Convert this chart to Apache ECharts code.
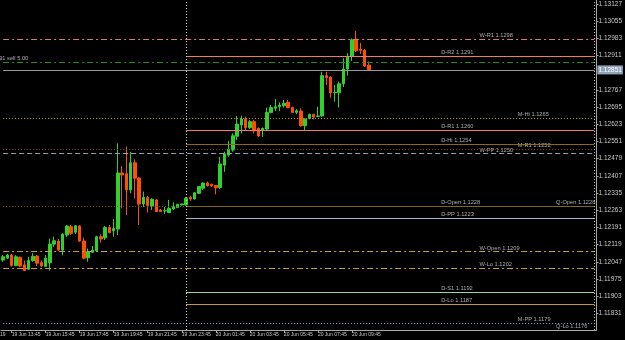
<!DOCTYPE html>
<html><head><meta charset="utf-8">
<script src="https://cdn.jsdelivr.net/npm/echarts@6/dist/echarts.min.js"></script>
<style>html,body{margin:0;padding:0;background:#000}#c{width:625px;height:340px}</style>
</head><body><div id="c"></div>
<script>
// ---- time categories (M15 bars, incl. empty future slots) ----
const categories = [];
for (let i = 0; i < 140; i++) {
  const m = 13 * 60 + 15 + 15 * i;
  const day = 19 + Math.floor(m / 1440);
  const mm = m % 1440;
  categories.push(day + ' Jun ' + String(Math.floor(mm / 60)).padStart(2, '0') + ':' + String(mm % 60).padStart(2, '0'));
}
// ---- candles ----
const opens  = [1.12054,1.12062,1.12075,1.12031,1.12066,1.12034,1.12016,1.12052,1.12071,1.12043,1.12027,1.12043,1.12121,1.12134,1.12096,1.12159,1.12194,1.12171,1.12197,1.12134,1.12064,1.12087,1.12093,1.12152,1.12147,1.12191,1.12177,1.12184,1.12419,1.12416,1.12348,1.12462,1.12398,1.12289,1.12317,1.12281,1.12306,1.12264,1.12260,1.12253,1.12268,1.12274,1.12285,1.12285,1.12317,1.12310,1.12334,1.12355,1.12377,1.12372,1.12367,1.12358,1.12452,1.12494,1.12515,1.12573,1.12620,1.12645,1.12609,1.12634,1.12606,1.12599,1.12603,1.12673,1.12690,1.12697,1.12701,1.12715,1.12694,1.12673,1.12679,1.12617,1.12648,1.12665,1.12656,1.12658,1.12827,1.12821,1.12755,1.12755,1.12793,1.12855,1.12908,1.12980,1.12938,1.12934,1.12871];
const closes = [1.12068,1.12075,1.12031,1.12068,1.12029,1.12010,1.12052,1.12070,1.12041,1.12029,1.12062,1.12121,1.12135,1.12096,1.12163,1.12197,1.12166,1.12198,1.12134,1.12062,1.12089,1.12096,1.12152,1.12142,1.12191,1.12169,1.12186,1.12419,1.12411,1.12348,1.12462,1.12397,1.12289,1.12317,1.12282,1.12309,1.12257,1.12257,1.12261,1.12271,1.12278,1.12288,1.12289,1.12313,1.12310,1.12336,1.12362,1.12377,1.12366,1.12365,1.12357,1.12457,1.12499,1.12519,1.12575,1.12624,1.12645,1.12609,1.12634,1.12596,1.12574,1.12606,1.12673,1.12693,1.12697,1.12704,1.12711,1.12693,1.12673,1.12680,1.12617,1.12645,1.12665,1.12654,1.12658,1.12827,1.12818,1.12755,1.12757,1.12793,1.12855,1.12908,1.12977,1.12931,1.12933,1.12867,1.12851];
const lows   = [1.12047,1.12059,1.12027,1.12029,1.12025,1.12008,1.12013,1.12047,1.12029,1.12025,1.12025,1.12010,1.12110,1.12092,1.12074,1.12150,1.12159,1.12163,1.12130,1.12057,1.12047,1.12083,1.12092,1.12127,1.12138,1.12166,1.12152,1.12159,1.12271,1.12243,1.12334,1.12313,1.12201,1.12276,1.12253,1.12264,1.12256,1.12256,1.12247,1.12251,1.12264,1.12272,1.12283,1.12283,1.12302,1.12308,1.12331,1.12348,1.12362,1.12360,1.12329,1.12352,1.12424,1.12487,1.12508,1.12557,1.12585,1.12599,1.12603,1.12585,1.12570,1.12570,1.12599,1.12670,1.12679,1.12679,1.12693,1.12690,1.12670,1.12665,1.12613,1.12599,1.12644,1.12644,1.12655,1.12655,1.12788,1.12734,1.12718,1.12693,1.12779,1.12827,1.12888,1.12926,1.12918,1.12863,1.12850];
const highs  = [1.12075,1.12080,1.12080,1.12075,1.12068,1.12052,1.12068,1.12083,1.12075,1.12052,1.12075,1.12144,1.12152,1.12142,1.12166,1.12201,1.12201,1.12201,1.12201,1.12148,1.12103,1.12113,1.12156,1.12162,1.12197,1.12201,1.12226,1.12543,1.12448,1.12530,1.12507,1.12476,1.12402,1.12341,1.12323,1.12313,1.12310,1.12268,1.12276,1.12306,1.12296,1.12289,1.12291,1.12318,1.12324,1.12339,1.12365,1.12380,1.12383,1.12374,1.12369,1.12487,1.12508,1.12553,1.12585,1.12658,1.12659,1.12655,1.12641,1.12641,1.12610,1.12609,1.12693,1.12704,1.12729,1.12715,1.12725,1.12725,1.12696,1.12687,1.12690,1.12648,1.12667,1.12667,1.12697,1.12843,1.12843,1.12825,1.12788,1.12802,1.12900,1.12921,1.12983,1.13015,1.12964,1.12938,1.12886];
// ---- levels ----
const levelNames  = ['W-R1','D-R2','M-Hi','D-R1','D-Hi','M-R1','W-PP','D-Open','Q-Open','D-PP','W-Open','W-Lo','D-S1','D-Lo','M-PP','Q-Lo'];
const levelValues = [1.1298,1.1291,1.1265,1.1260,1.1254,1.1252,1.1250,1.1228,1.1228,1.1223,1.1209,1.1202,1.1192,1.1187,1.1179,1.1176];
const orderLabel = '91 sell 5.00';
const orderPrice = 1.12884;
const bidPrice = 1.12851;
const separatorTime = '20 Jun 00:00';
const yTickValues = [1.13127,1.13055,1.12983,1.12911,1.12767,1.12695,1.12623,1.12551,1.12479,1.12407,1.12335,1.12263,1.12191,1.12119,1.12047,1.11975,1.11903,1.11831];

// ---- styles ----
const DD = [6,3,2,3], DOT = [1,2], DASH = [5,3];
const levelStyle = {
  'W-R1':  {c:'#d87a78', t:DD},
  'D-R2':  {c:'#f07a6a', t:'solid', day:true},
  'M-Hi':  {c:'#d0a020', t:DOT},
  'D-R1':  {c:'#f07a6a', t:'solid', day:true},
  'D-Hi':  {c:'#8a6a14', t:'solid', day:true},
  'M-R1':  {c:'#8c3c3c', t:DOT},
  'W-PP':  {c:'#8ea6b4', t:DASH},
  'D-Open':{c:'#8a6a14', t:'solid', day:true},
  'Q-Open':{c:'#7a5a14', t:DOT},
  'D-PP':  {c:'#a8bccb', t:'solid', day:true},
  'W-Open':{c:'#c8a040', t:DD},
  'W-Lo':  {c:'#c8a040', t:DD},
  'D-S1':  {c:'#98d898', t:'solid', day:true},
  'D-Lo':  {c:'#c89a30', t:'solid', day:true},
  'M-PP':  {c:'#80b0c8', t:DOT},
  'Q-Lo':  {c:'#80b0c8', t:DOT}
};
const labelCol = {D:103, W:112, M:121, Q:130};
const firstCat = categories[0];
const lastCat = categories[categories.length - 1];

function hLine(v, from, ls) {
  return [{coord:[from, v], lineStyle: ls}, {coord:[lastCat, v], lineStyle: ls}];
}
const markData = [];
levelNames.forEach((n, i) => {
  const s = levelStyle[n];
  markData.push(hLine(levelValues[i], s.day ? separatorTime : firstCat, {color: s.c, type: s.t, width: 1}));
});
markData.push(hLine(orderPrice, firstCat, {color:'#1f8f1f', type:DD, width:1}));
const bidLine = hLine(bidPrice, firstCat, {color:'#9a9a9a', type:'solid', width:1});
bidLine[0].label = {show:true, position:'end', distance:3, formatter: bidPrice.toFixed(5), backgroundColor:'#8ea3b8', color:'#ffffff', fontSize:6.5, padding:[1,1], fontFamily:'Liberation Sans'};
markData.push(bidLine);
markData.push({xAxis: separatorTime, lineStyle:{color:'#d8d8d8', type:DOT, width:1}});
markData.push({xAxis: lastCat, lineStyle:{color:'#c0c0c0', type:DOT, width:1}});

const labelData = levelNames.map((n, i) => ({
  value: [categories[labelCol[n[0]]], levelValues[i]],
  label: {formatter: n + ' ' + levelValues[i].toFixed(4)}
}));
labelData.push({value:[firstCat, orderPrice], label:{formatter: orderLabel, offset:[-4,0]}});

const nBars = opens.length;
const showTime = (i, v) => i < nBars && v.endsWith(':45') && (parseInt(v.slice(7, 9)) % 2 === 1);

const chart = echarts.init(document.getElementById('c'), null, {renderer:'canvas'});
chart.setOption({
  backgroundColor: '#000000',
  animation: false,
  grid: {left: 1, top: 0, width: 596.4, height: 330},
  xAxis: {
    type: 'category', data: categories, boundaryGap: true,
    axisLine: {show: true, lineStyle: {color: '#a8a8a8'}},
    axisTick: {show: true, alignWithLabel: true, length: 3, lineStyle:{color:'#a8a8a8'}, interval: showTime},
    axisLabel: {show: true, color: '#c8c8c8', fontSize: 5, fontFamily: 'Liberation Sans', align: 'left', margin: 2, interval: showTime},
    splitLine: {show: false}
  },
  yAxis: {
    type: 'value', position: 'right', min: 1.11761, max: 1.13144, scale: true,
    axisLine: {show: true, lineStyle: {color: '#a8a8a8'}},
    axisTick: {show: true, length: 2, customValues: yTickValues, lineStyle:{color:'#a8a8a8'}},
    axisLabel: {show: true, color: '#c8c8c8', fontSize: 6.5, fontFamily: 'Liberation Sans', margin: 2,
      customValues: yTickValues, formatter: v => v.toFixed(5)},
    splitLine: {show: false}
  },
  series: [
    {type: 'candlestick', z: 3, barWidth: 3,
     data: opens.map((o, i) => [o, closes[i], lows[i], highs[i]]),
     itemStyle: {color: '#2fd12f', color0: '#ff5000', borderColor: '#2fd12f', borderColor0: '#ff5000', borderWidth: 1},
     markLine: {symbol: ['none','none'], silent: true, animation:false, label: {show: false}, data: markData}},
    {type: 'scatter', z: 4, symbolSize: 0, silent: true, clip: false, data: labelData,
     label: {show: true, position: [0, -7], color: '#d4d4d4', fontSize: 5.7, fontFamily: 'Liberation Sans', lineHeight: 7}}
  ],
  graphic: [{type:'text', left: 0, top: 332, style:{text:'19', fill:'#c8c8c8', font:'5px "Liberation Sans"'}}]
});
</script></body></html>
